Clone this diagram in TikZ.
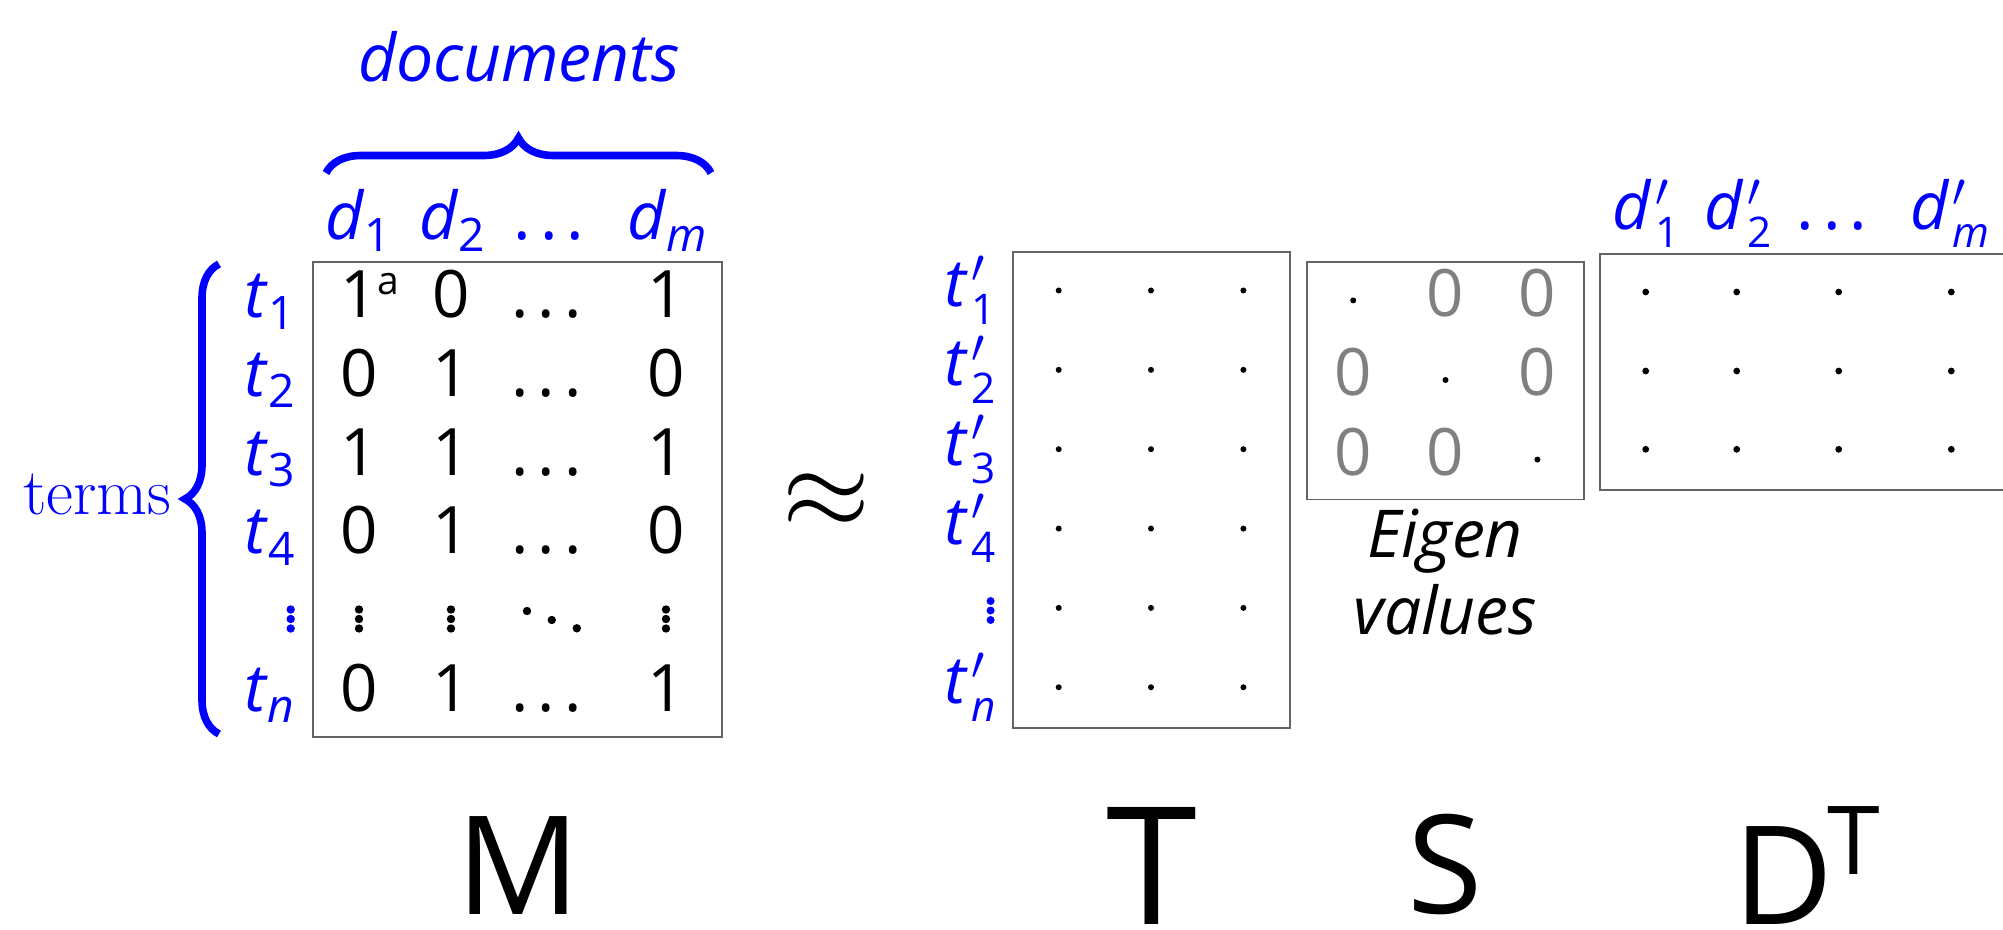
\documentclass[tikz,border=0pt]{standalone}
\usepackage{fontspec}
\newfontfamily\osans{Open Sans}
\usetikzlibrary{decorations.pathreplacing}

\definecolor{lblblue}{RGB}{0,0,255}
\definecolor{zerogray}{RGB}{128,128,128}
\definecolor{boxgray}{RGB}{100,100,100}

\newcommand\fsz[1]{\fontsize{#1}{#1}\selectfont}
% italic letter with a small subscript
\newcommand\lsub[2]{\textit{#1}\raisebox{-0.17em}{\scalebox{0.7}{#2}}}
% italic letter with prime and subscript
\newcommand\lpsub[2]{\textit{#1}\kern0.05em\rlap{\raisebox{0.36em}{\resizebox{!}{0.4em}{\fsz{10}$\prime$}}}\raisebox{-0.27em}{\scalebox{0.64}{#2}}}
% horizontal ellipsis built from periods
\newcommand\hdot{.\kern0.14em.\kern0.14em.}
% one with superscript a
\newcommand\oneA{1\rlap{\raisebox{0.36em}{\fsz{19.5}a}}}

\begin{document}
\begin{tikzpicture}[x=0.5pt,y=-0.5pt,
  mat/.style={draw=boxgray, line width=0.8pt},
  ent/.style={font=\osans\fsz{32.7}, inner sep=0, anchor=base},
  hdr/.style={font=\osans\fsz{33}, text=lblblue, inner sep=0, anchor=base},
  rowlbl/.style={font=\osans\fsz{33}, text=lblblue, inner sep=0, anchor=base east},
  szero/.style={font=\osans\fsz{32.7}, text=zerogray, inner sep=0},
  eigtext/.style={font=\osans\itshape\fsz{33}, inner sep=0, anchor=base},
  bigname/.style={inner sep=0, anchor=base},
  bluebrace/.style={draw=lblblue, line width=3.8pt,
    decorate, decoration={brace, amplitude=#1}},
]
\useasboundingbox (0,0) rectangle (2003,930);
\clip (0,0) rectangle (2003,930);

% ---------- matrix M ----------
\draw[mat] (313,262) rectangle (722,737);

\node[font=\osans\itshape\fsz{33}, text=lblblue, inner sep=0, anchor=base] (docs) at (519,81.7) {documents};
\draw[bluebrace=17.5pt] (326,173) -- (711,173);

\node[hdr] (d1) at (358,240) {\lsub{d}{1}};
\node[hdr] (d2) at (452,240) {\lsub{d}{2}};
\node[hdr] (dd) at (549,240) {\hdot};
\node[hdr] (dm) at (667,240) {\lsub{d}{\textit{m}}};

\node[font=\fsz{33}, text=lblblue, inner sep=0, anchor=base east] (terms) at (172,515) {terms};
\draw[bluebrace=17pt] (219,734) -- (219,264);

\foreach \yb/\ea/\eb/\ed/\lab [count=\i] in
  {318/\oneA/0/1/1, 396.6/0/1/0/2, 475.2/1/1/1/3, 553.8/0/1/0/4, 711/0/1/1/\textit{n}} {
  \node[ent] (m\i a) at (359,\yb) {\ea};
  \node[ent] (m\i b) at (451,\yb) {\eb};
  \node[ent] (m\i c) at (546.5,\yb) {\hdot};
  \node[ent] (m\i d) at (666,\yb) {\ed};
  \node[rowlbl] (t\i) at (295,\yb) {\lsub{t}{\lab}};
}
% vertical and diagonal dots row
\foreach \x in {359,451,666}
  \foreach \y in {609.5,619,628.5} \fill (\x,\y) circle (2.1pt);
\foreach \y in {609.5,619,628.5} \fill[lblblue] (290.7,\y) circle (2.1pt);
\fill (527,611) circle (2.1pt) (551.8,620) circle (2.1pt) (576.8,628.3) circle (2.1pt);

% ---------- approx ----------
\node[inner sep=0] (approx) at (826,501) {\scalebox{5.65}{$\approx$}};

% ---------- matrix T ----------
\draw[mat] (1013,252) rectangle (1290,728);
\foreach \c in {1058.7,1151,1243.4}
  \foreach \r in {0,...,5} \fill (\c,290.5+79.35*\r) circle (1.5pt);
\foreach \k/\lab in {0/1,1/2,2/3,3/4,5/\textit{n}}
  \node[rowlbl] (tp\k) at (996,306.5+79.35*\k) {\lpsub{t}{\lab}};
\foreach \y in {601,610.5,620} \fill[lblblue] (990.6,\y) circle (2pt);

% ---------- matrix S ----------
\draw[mat] (1307,262) rectangle (1584,499.6);
\node[szero] (s12) at (1445.5,293.5) {0};
\node[szero] (s13) at (1537.4,293.5) {0};
\node[szero] (s21) at (1353.2,372.3) {0};
\node[szero] (s23) at (1537.4,372.3) {0};
\node[szero] (s31) at (1353.2,452) {0};
\node[szero] (s32) at (1445.5,452) {0};
\fill (1353.2,300.4) circle (1.5pt) (1445.5,380) circle (1.5pt) (1537.4,459.6) circle (1.5pt);
\node[eigtext] (eig1) at (1445,557) {Eigen};
\node[eigtext] (eig2) at (1445.5,634) {values};

% ---------- matrix D^T ----------
\draw[mat] (2020,254) -- (1600,254) -- (1600,490) -- (2020,490);
\foreach \c in {1645.7,1736.7,1838.7,1951.3}
  \foreach \r in {292,371,449.3} \fill (\c,\r) circle (1.7pt);
\node[hdr] (dp1) at (1646,230) {\lpsub{d}{1}};
\node[hdr] (dp2) at (1738,230) {\lpsub{d}{2}};
\node[hdr] (dpd) at (1832,230) {\hdot};
\node[hdr] (dpm) at (1950,230) {\lpsub{d}{\textit{m}}};

% ---------- factor names ----------
\node[bigname, font=\osans\fsz{68.6}] (nM) at (518,914) {M};
\node[bigname, font=\osans\fsz{82}] (nT) at (1151.7,924) {T};
\node[bigname, font=\osans\fsz{68.6}] (nS) at (1445,913) {S};
\node[bigname, font=\osans\fsz{68.6}, anchor=base west] (nD) at (1733,924) {D\kern-3pt\raisebox{25pt}{\fsz{47.6}T}};
\end{tikzpicture}
\end{document}
